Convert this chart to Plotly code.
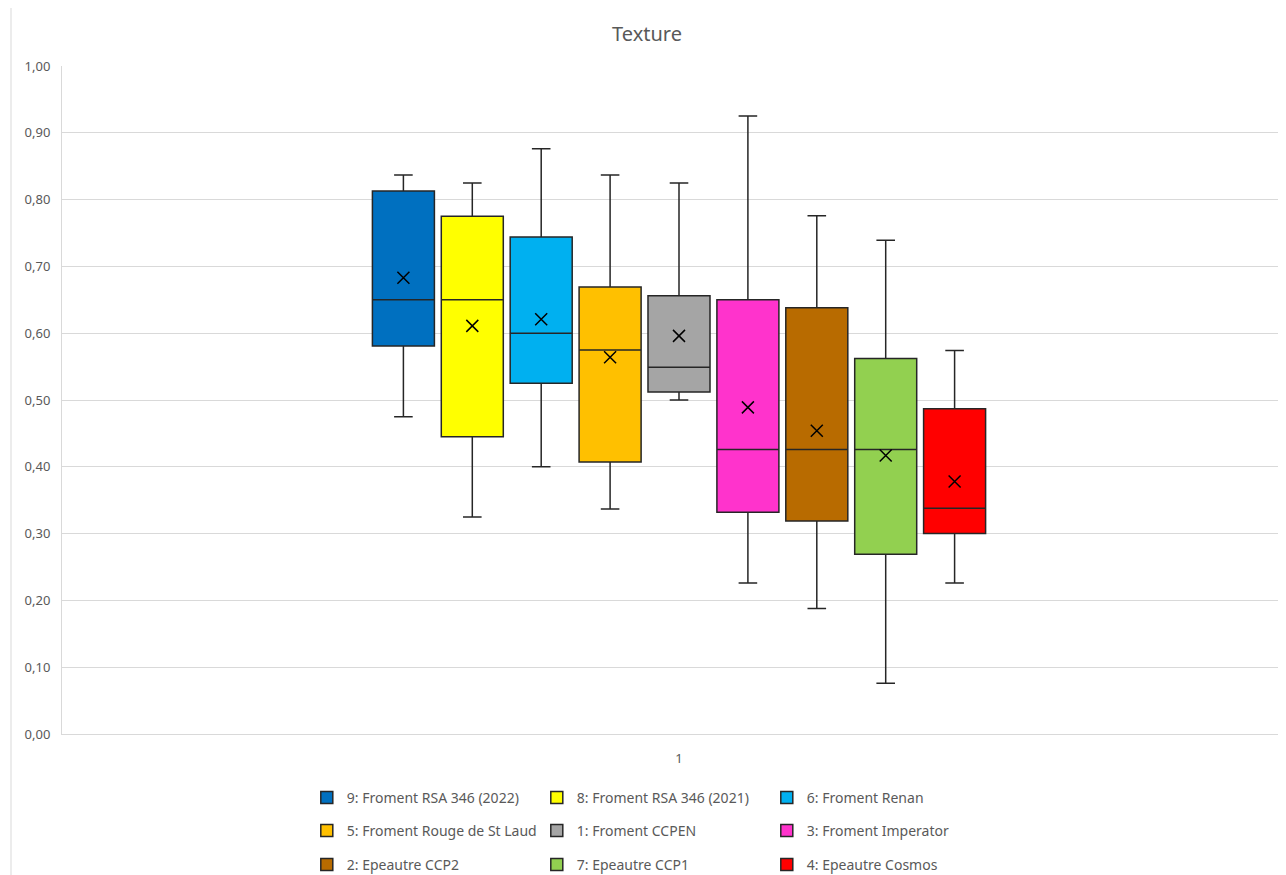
import plotly.graph_objects as go

# values (Excel box plot, one category "1")
names = ['9: Froment RSA 346 (2022)', '8: Froment RSA 346 (2021)', '6: Froment Renan',
         '5: Froment Rouge de St Laud', '1: Froment CCPEN', '3: Froment Imperator',
         '2: Epeautre CCP2', '7: Epeautre CCP1', '4: Epeautre Cosmos']
colors = ['#0070c0', '#ffff00', '#00b0f0', '#ffc000', '#a5a5a5', '#ff33cc', '#b86b00', '#92d050', '#ff0000']
mins = [0.475, 0.325, 0.400, 0.337, 0.500, 0.226, 0.188, 0.076, 0.226]
q1s = [0.581, 0.445, 0.525, 0.407, 0.512, 0.332, 0.319, 0.269, 0.300]
medians = [0.650, 0.650, 0.600, 0.575, 0.549, 0.426, 0.426, 0.426, 0.338]
q3s = [0.813, 0.775, 0.744, 0.669, 0.656, 0.650, 0.638, 0.562, 0.487]
maxs = [0.837, 0.825, 0.876, 0.837, 0.825, 0.925, 0.776, 0.739, 0.574]
means = [0.683, 0.611, 0.621, 0.564, 0.596, 0.489, 0.454, 0.417, 0.378]
category = '1'

grey = '#595959'
font = 'Noto Sans'

# the page body adds an 8px margin, so the figure is 8px smaller than the window
W, H = 1278, 867

fig = go.Figure()

legend_ids = ['legend', 'legend2', 'legend3']
center = (len(names) - 1) / 2

for i in range(len(names)):
    fig.add_trace(go.Box(x=[i], q1=[q1s[i]], median=[medians[i]], q3=[q3s[i]],
                         lowerfence=[mins[i]], upperfence=[maxs[i]],
                         name=names[i], fillcolor=colors[i], line=dict(color='#262626', width=1.5),
                         width=0.9, whiskerwidth=0.3, boxpoints=False,
                         legend=legend_ids[i // 3], hoverinfo='skip'))
    fig.add_trace(go.Scatter(x=[i], y=[means[i]], mode='markers', showlegend=False,
                             marker=dict(symbol='x-thin', size=12, line=dict(color='#000000', width=1.5)),
                             hoverinfo='skip'))

fig.update_layout(
    width=W, height=H,
    margin=dict(l=54, r=0, t=58, b=141),
    paper_bgcolor='white', plot_bgcolor='white',
    separators=', ',
    font=dict(family=font, size=14, color=grey),
    title=dict(text='Texture', x=0.5, xanchor='center', y=1 - 25.5 / H, yanchor='middle',
               font=dict(family=font, size=20, color=grey)),
    xaxis=dict(range=[center - 617 / 68.9, center + 607 / 68.9], tickvals=[center], ticktext=[category],
               showgrid=False, zeroline=False, showline=True, linecolor='#d9d9d9', linewidth=1,
               ticks='', ticklabelstandoff=12, automargin=False, tickfont=dict(size=13, color=grey)),
    yaxis=dict(range=[0, 1], dtick=0.1, tickformat='.2f', showgrid=True, gridcolor='#d9d9d9',
               zeroline=False, showline=True, linecolor='#d9d9d9', ticks='', ticklabelstandoff=8,
               automargin=False, tickfont=dict(size=13, color=grey)),
    showlegend=True,
)

legend_style = dict(orientation='h', xanchor='left', yanchor='middle', x=0.2, yref='container',
                    entrywidth=185, itemwidth=30, bgcolor='rgba(0,0,0,0)',
                    font=dict(family=font, size=14, color=grey), traceorder='normal')
fig.update_layout(
    legend=dict(y=(H - 790) / H, **legend_style),
    legend2=dict(y=(H - 823) / H, **legend_style),
    legend3=dict(y=(H - 857) / H, **legend_style),
)

# outer chart border on the left
fig.add_shape(type='line', xref='paper', yref='paper', x0=-51 / 1224, x1=-51 / 1224,
              y0=-141 / 668, y1=734 / 668, line=dict(color='#d9d9d9', width=1))

fig.write_html('out.html')
